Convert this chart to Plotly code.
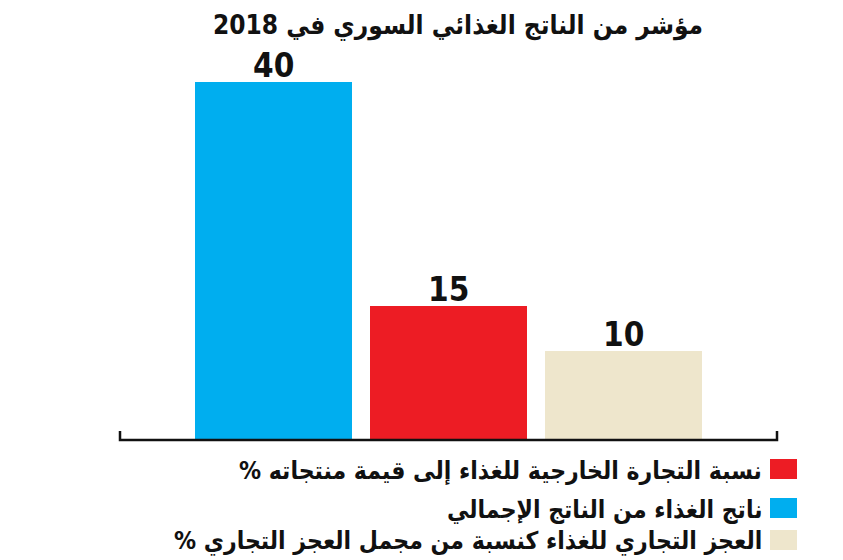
import plotly.graph_objects as go

# ---- data ----
categories = ["ناتج الغذاء من الناتج الإجمالي",
              "نسبة التجارة الخارجية للغذاء إلى قيمة منتجاته %",
              "العجز التجاري للغذاء كنسبة من مجمل العجز التجاري %"]
values = [40, 15, 10]
colors = ["#00AEEF", "#ED1C24", "#EEE6CC"]
legend_order = [1, 0, 2]
title_text = "مؤشر من الناتج الغذائي السوري في 2018"

RLM = "\u200F"

W, H = 843, 560
L, R, T, B = 120, 66, 60, 120
plot_h = H - T - B
plot_w = W - L - R

fig = go.Figure()
fig.add_trace(go.Bar(
    x=list(range(len(values))), y=values,
    marker=dict(color=colors, line=dict(width=0)),
    width=0.897,
    showlegend=False, hoverinfo="skip",
))

def px_x(p):
    return (p - L) / plot_w

def px_y(p):
    return (H - B - p) / plot_h

annotations = []
for i, v in enumerate(values):
    annotations.append(dict(x=i, y=v, xref="x", yref="y", text=f"<b>{v}</b>",
                            showarrow=False, xanchor="center", yanchor="bottom", yshift=-5,
                            font=dict(family="Liberation Sans Narrow, DejaVu Sans Condensed",
                                      size=33, color="#111111")))

shapes = []
# baseline with end ticks
y0 = px_y(440)
yt = px_y(431)
shapes.append(dict(type="path", xref="paper", yref="paper",
                   path=f"M 0,{yt} L 0,{y0} L 1,{y0} L 1,{yt}",
                   line=dict(color="#111111", width=2.5), layer="above"))

rows_y = [469, 508, 540]
for row, idx in enumerate(legend_order):
    cy = rows_y[row]
    shapes.append(dict(type="rect", xref="paper", yref="paper",
                       x0=px_x(770), x1=px_x(797), y0=px_y(cy - 10), y1=px_y(cy + 10),
                       fillcolor=colors[idx], line=dict(width=0)))
    annotations.append(dict(xref="paper", yref="paper", x=px_x(764), y=px_y(cy + 1),
                            xanchor="right", yanchor="middle", showarrow=False,
                            text=f"<b>{RLM}{categories[idx]}{RLM}</b>",
                            font=dict(family="DejaVu Sans Condensed", size=24.5, color="#111111")))

annotations.append(dict(xref="paper", yref="paper", x=px_x(458), y=px_y(25),
                        xanchor="center", yanchor="middle", showarrow=False,
                        text=f"<b>{RLM}{title_text}{RLM}</b>",
                        font=dict(family="DejaVu Sans Condensed", size=26, color="#111111")))

fig.update_layout(
    width=W, height=H,
    margin=dict(l=L, r=R, t=T, b=B, pad=0),
    paper_bgcolor="white", plot_bgcolor="white",
    xaxis=dict(range=[-0.876, 2.878], visible=False, fixedrange=True),
    yaxis=dict(range=[0, plot_h / 8.95], visible=False, fixedrange=True),
    shapes=shapes, annotations=annotations,
    bargap=0, showlegend=False,
)

fig.write_html("out.html", config={"displayModeBar": False},
               post_script="document.body.style.margin='0';document.body.style.overflow='hidden';")
